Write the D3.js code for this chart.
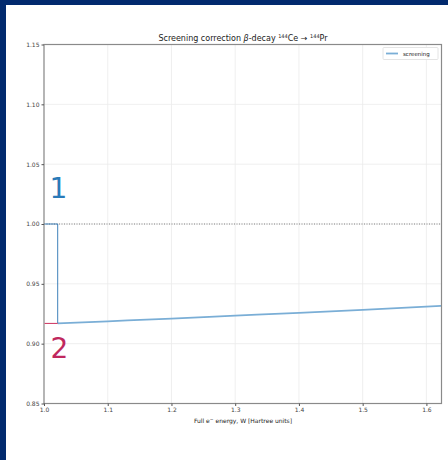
<!DOCTYPE html>
<html>
<head>
<meta charset="utf-8">
<script src="https://cdn.jsdelivr.net/npm/d3@7"></script>
<style>
  body { margin: 0; background: #fff; }
  svg { display: block; font-family: "DejaVu Sans", sans-serif; }
</style>
</head>
<body>
<svg id="chart" width="448" height="460"></svg>
<script>
// data
var w_values = [1.0215, 1.1, 1.2, 1.3, 1.4, 1.5, 1.6237];
var screening = [0.9169, 0.9187, 0.9210, 0.9234, 0.9258, 0.9283, 0.9316];
var x_ticks = [1.0, 1.1, 1.2, 1.3, 1.4, 1.5, 1.6];
var y_ticks = [0.85, 0.90, 0.95, 1.00, 1.05, 1.10, 1.15];
var start_w = 1.0215;
var start_s = 0.9169;

var svg = d3.select("#chart");

// navy frame
svg.append("rect").attr("x", 0).attr("y", 0).attr("width", 448).attr("height", 5).attr("fill", "#022a6e");
svg.append("rect").attr("x", 0).attr("y", 0).attr("width", 6).attr("height", 460).attr("fill", "#022a6e");

var plotLeft = 44, plotRight = 441.5, plotTop = 44.5, plotBottom = 403.5;

var x = d3.scaleLinear().domain([1.0, 1.6237]).range([plotLeft, plotRight]);
var y = d3.scaleLinear().domain([0.85, 1.15]).range([plotBottom, plotTop]);

// grid
svg.append("g").selectAll("line").data(x_ticks).enter().append("line")
    .attr("x1", function(d) { return x(d); }).attr("x2", function(d) { return x(d); })
    .attr("y1", plotTop).attr("y2", plotBottom)
    .attr("stroke", "#ebebeb").attr("stroke-width", 0.8);
svg.append("g").selectAll("line").data(y_ticks).enter().append("line")
    .attr("x1", plotLeft).attr("x2", plotRight)
    .attr("y1", function(d) { return y(d); }).attr("y2", function(d) { return y(d); })
    .attr("stroke", "#ebebeb").attr("stroke-width", 0.8);

// dotted line at 1.0
svg.append("line")
    .attr("x1", plotLeft).attr("x2", plotRight)
    .attr("y1", y(1.0)).attr("y2", y(1.0))
    .attr("stroke", "#666").attr("stroke-width", 0.8)
    .attr("stroke-dasharray", "1,1.5");

// screening curve
var line = d3.line()
    .x(function(d, i) { return x(w_values[i]); })
    .y(function(d) { return y(d); })
    .curve(d3.curveMonotoneX);
svg.append("path").datum(screening)
    .attr("d", line)
    .attr("fill", "none").attr("stroke", "#7aaed6").attr("stroke-width", 1.8);

// frame
svg.append("rect")
    .attr("x", plotLeft).attr("y", plotTop).attr("width", plotRight - plotLeft).attr("height", plotBottom - plotTop)
    .attr("fill", "none").attr("stroke", "#8a8a8a").attr("stroke-width", 1.2);

// blue step 1 -> start of curve
svg.append("path")
    .attr("d", "M" + (x(1.0) + 0.6) + "," + y(1.0) + "H" + x(start_w) + "V" + y(start_s))
    .attr("fill", "none").attr("stroke", "#2a74b3").attr("stroke-width", 0.9);

// red level 2
svg.append("line")
    .attr("x1", x(1.0) + 0.6).attr("x2", x(start_w))
    .attr("y1", y(start_s)).attr("y2", y(start_s))
    .attr("stroke", "#d2436c").attr("stroke-width", 1.1);

// axes
var xAxis = d3.axisBottom(x).tickValues(x_ticks).tickSize(2.5).tickPadding(2)
    .tickFormat(d3.format(".1f"));
var gx = svg.append("g").attr("transform", "translate(0," + plotBottom + ")").call(xAxis);
var yAxis = d3.axisLeft(y).tickValues(y_ticks).tickSize(2.5).tickPadding(2)
    .tickFormat(d3.format(".2f"));
var gy = svg.append("g").attr("transform", "translate(" + plotLeft + ",0)").call(yAxis);
[gx, gy].forEach(function(g) {
    g.select(".domain").remove();
    g.selectAll("line").attr("stroke", "#555");
    g.selectAll("text").attr("fill", "#444").style("font-size", "6px")
        .style("font-family", "DejaVu Sans, sans-serif");
});

// title
var title = svg.append("text").attr("x", 243).attr("y", 40.5)
    .attr("text-anchor", "middle").style("font-size", "8px").attr("fill", "#222");
title.append("tspan").text("Screening correction ");
title.append("tspan").style("font-style", "italic").text("β");
title.append("tspan").text("-decay ");
title.append("tspan").attr("dy", -3).style("font-size", "5px").text("144");
title.append("tspan").attr("dy", 3).text("Ce → ");
title.append("tspan").attr("dy", -3).style("font-size", "5px").text("144");
title.append("tspan").attr("dy", 3).text("Pr");

// x label
var xl = svg.append("text").attr("x", 243).attr("y", 422.5)
    .attr("text-anchor", "middle").style("font-size", "6px").attr("fill", "#222");
xl.append("tspan").text("Full e");
xl.append("tspan").attr("dy", -2).style("font-size", "4.5px").text("−");
xl.append("tspan").attr("dy", 2).text("  energy, W [Hartree units]");

// legend
svg.append("rect").attr("x", 383).attr("y", 47.5).attr("width", 55).attr("height", 12)
    .attr("fill", "#fff").attr("stroke", "#ddd").attr("stroke-width", 0.8).attr("rx", 1);
svg.append("line").attr("x1", 386).attr("x2", 398).attr("y1", 53.5).attr("y2", 53.5)
    .attr("stroke", "#7aaed6").attr("stroke-width", 1.8);
svg.append("text").attr("x", 403).attr("y", 55.8).style("font-size", "5.5px")
    .attr("fill", "#222").text("screening");

// big labels
svg.append("text").attr("x", 49.5).attr("y", 197.5).style("font-size", "28px")
    .attr("fill", "#2a7ab8").text("1");
svg.append("text").attr("x", 50.5).attr("y", 357.5).style("font-size", "28px")
    .attr("fill", "#c0285e").text("2");
</script>
</body>
</html>
